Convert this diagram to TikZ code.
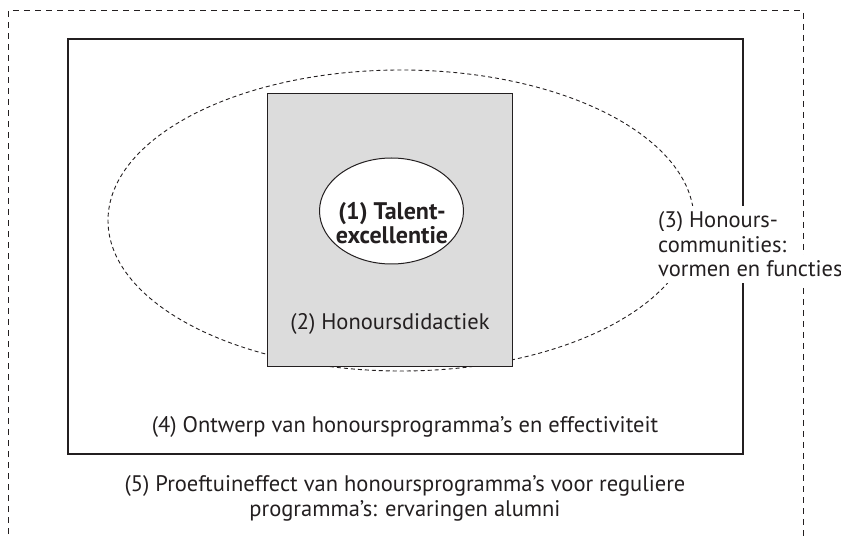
\documentclass[tikz,border=0pt]{standalone}
\usepackage{fontspec}
\setmainfont{PT Sans}
\usetikzlibrary{shapes.geometric}
\definecolor{boxgray}{HTML}{DCDCDC}
\definecolor{ink}{HTML}{231F20}
\begin{document}
\begin{tikzpicture}[x=1pt,y=-1pt,
  lbl/.style={font=\fontsize{22.5}{25}\selectfont, text=ink, align=center, inner sep=0pt},
  sidelbl/.style={font=\fontsize{22.5}{25}\selectfont, text=ink, fill=white, anchor=base west, inner xsep=3pt, inner ysep=6pt},
  outerdash/.style={draw=ink, line width=1pt, dash pattern=on 6pt off 5pt},
  innerdash/.style={draw=ink, line width=0.9pt, dash pattern=on 4pt off 3pt},
  solidbox/.style={draw=ink, line width=1.4pt}]
\useasboundingbox (0,0) rectangle (841,537);
\begin{scope}
\clip (0,0) rectangle (841,537);
\draw[outerdash] (8,545) -- (8,11) -- (803,11) -- (803,545);
\end{scope}
\node[solidbox, rectangle, minimum width=675pt, minimum height=415pt, inner sep=0pt] (prog) at (405.5,246.5) {};
\node[innerdash, ellipse, minimum width=586pt, minimum height=301pt, inner sep=0pt] (comm) at (401,220.5) {};
\node[draw=ink, line width=1pt, fill=boxgray, rectangle, minimum width=245pt, minimum height=273pt, inner sep=0pt] (did) at (389.5,230.5) {};
\node[draw=ink, line width=1pt, fill=white, ellipse, minimum width=144pt, minimum height=106pt, inner sep=0pt] (tal) at (391.5,211) {};
\node[lbl, font=\fontsize{24}{24.5}\selectfont\bfseries] (taltxt) at (392,223) {(1) Talent-\\excellentie};
\node[lbl] (didtxt) at (390,324) {(2) Honoursdidactiek};
\node[sidelbl] (commtxta) at (655,228) {(3) Honours-};
\node[sidelbl] (commtxtb) at (655,252.5) {communities:};
\node[sidelbl] (commtxtc) at (655,277) {vormen en functies};
\node[lbl] (progtxt) at (405,427) {(4) Ontwerp van honoursprogramma’s en effectiviteit};
\node[lbl] (prftxt) at (405,498) {(5) Proeftuineffect van honoursprogramma’s voor reguliere\\programma’s: ervaringen alumni};
\end{tikzpicture}
\end{document}
